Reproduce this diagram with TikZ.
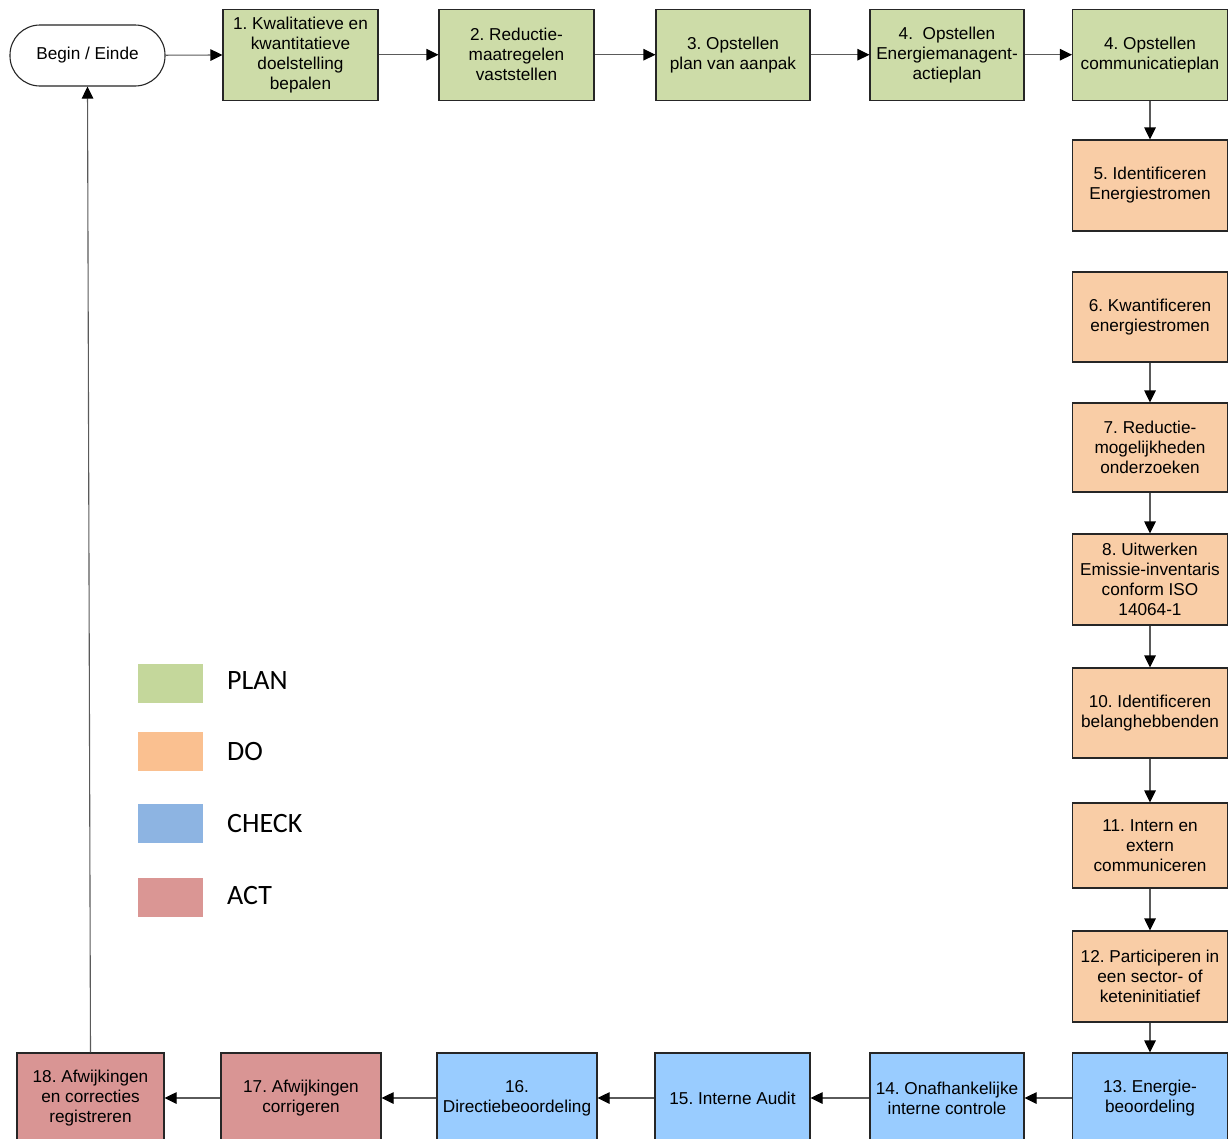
\documentclass[tikz,border=0pt]{standalone}
\usepackage{fontspec}
\setmainfont{Liberation Sans}
\newfontfamily\legendfont{Carlito}
\usetikzlibrary{arrows.meta}
\frenchspacing
\definecolor{planbox}{HTML}{CDDCA8}
\definecolor{dobox}{HTML}{F9CDA6}
\definecolor{checkbox}{HTML}{99CCFF}
\definecolor{actbox}{HTML}{D99594}
\definecolor{planleg}{HTML}{C4D79B}
\definecolor{doleg}{HTML}{FAC090}
\definecolor{checkleg}{HTML}{8DB4E2}
\definecolor{actleg}{HTML}{DA9694}
\definecolor{linegray}{HTML}{5A5A5A}
\tikzset{
  stepbox/.style={draw=black!85, line width=1.1pt, inner sep=0pt, align=center,
    minimum width=155pt, minimum height=91pt,
    font=\fontsize{17.2}{20}\selectfont\frenchspacing},
  termbox/.style={draw=black!85, line width=1.1pt, inner sep=0pt, align=center,
    minimum width=155pt, minimum height=61pt, rounded corners=30pt, fill=white,
    font=\fontsize{17.2}{20}\selectfont},
  flow/.style={draw=linegray, line width=1.1pt,
    -{Triangle[length=12pt,width=11.5pt,color=black]}},
  legsq/.style={minimum width=65pt, minimum height=39pt, inner sep=0pt},
  legtxt/.style={anchor=west, inner sep=0pt, font=\legendfont\fontsize{28}{32}\selectfont}
}
\begin{document}
\begin{tikzpicture}[x=1pt,y=-1pt]
\useasboundingbox (0,0) rectangle (1228,1138);
\clip (0,0) rectangle (1228,1138);
\fill[white] (0,0) rectangle (1228,1138);

% top row
\node[termbox] (term) at (87.5,55.5) {Begin / Einde};
\node[stepbox, fill=planbox] (b1) at (300.5,54.7) {1. Kwalitatieve en\\kwantitatieve\\doelstelling\\bepalen};
\node[stepbox, fill=planbox] (b2) at (516.5,54.7) {2. Reductie-\\maatregelen\\vaststellen};
\node[stepbox, fill=planbox, minimum width=154pt] (b3) at (733,54.7) {3. Opstellen\\plan van aanpak};
\node[stepbox, fill=planbox, minimum width=154pt] (b4a) at (947,54.7) {4.\ \ Opstellen\\Energiemanagent-\\actieplan};
\node[stepbox, fill=planbox] (b4b) at (1150,54.7) {4. Opstellen\\communicatieplan};

% right column
\node[stepbox, fill=dobox] (b5) at (1150,185.5) {5. Identificeren\\Energiestromen};
\node[stepbox, fill=dobox, minimum height=90pt] (b6) at (1150,317) {6. Kwantificeren\\energiestromen};
\node[stepbox, fill=dobox, minimum height=89pt] (b7) at (1150,447.5) {7. Reductie-\\mogelijkheden\\onderzoeken};
\node[stepbox, fill=dobox] (b8) at (1150,579.5) {8. Uitwerken\\Emissie-inventaris\\conform ISO\\14064-1};
\node[stepbox, fill=dobox, minimum height=90pt] (b10) at (1150,713) {10. Identificeren\\belanghebbenden};
\node[stepbox, fill=dobox, minimum height=85pt] (b11) at (1150,845.5) {11. Intern en\\extern\\communiceren};
\node[stepbox, fill=dobox] (b12) at (1150,976.5) {12. Participeren in\\een sector- of\\keteninitiatief};

% bottom row
\node[stepbox, fill=checkbox, minimum height=90pt] (b13) at (1150,1098) {13. Energie-\\beoordeling};
\node[stepbox, fill=checkbox, minimum height=90pt, minimum width=154pt] (b14) at (947,1098) {14. Onafhankelijke\\interne controle};
\node[stepbox, fill=checkbox, minimum height=90pt] (b15) at (732.5,1098) {15. Interne Audit};
\node[stepbox, fill=checkbox, minimum height=90pt, minimum width=160pt] (b16) at (517,1098) {16.\\Directiebeoordeling};
\node[stepbox, fill=actbox, minimum height=90pt, minimum width=160pt] (b17) at (301,1098) {17. Afwijkingen\\corrigeren};
\node[stepbox, fill=actbox, minimum height=90pt, minimum width=147pt] (b18) at (90.5,1098) {18. Afwijkingen\\en correcties\\registreren};

% connectors
\draw[flow] (term) -- (b1);
\draw[flow] (b1) -- (b2);
\draw[flow] (b2) -- (b3);
\draw[flow] (b3) -- (b4a);
\draw[flow] (b4a) -- (b4b);
\draw[flow] (b4b) -- (b5);
\draw[flow] (b6) -- (b7);
\draw[flow] (b7) -- (b8);
\draw[flow] (b8) -- (b10);
\draw[flow] (b10) -- (b11);
\draw[flow] (b11) -- (b12);
\draw[flow] (b12) -- (b13);
\draw[flow] (b13) -- (b14);
\draw[flow] (b14) -- (b15);
\draw[flow] (b15) -- (b16);
\draw[flow] (b16) -- (b17);
\draw[flow] (b17) -- (b18);
\draw[flow] (b18.north) -- (term.south);

% legend
\node[legsq, fill=planleg] (lplan) at (170.2,683.3) {};
\node[legsq, fill=doleg] (ldo) at (170.2,751.3) {};
\node[legsq, fill=checkleg] (lcheck) at (170.2,823.3) {};
\node[legsq, fill=actleg] (lact) at (170.2,897.3) {};
\node[legtxt] (tplan) at (227,681) {PLAN};
\node[legtxt] (tdo) at (227,751) {DO};
\node[legtxt] (tcheck) at (227,823) {CHECK};
\node[legtxt] (tact) at (227,895) {ACT};
\end{tikzpicture}
\end{document}
